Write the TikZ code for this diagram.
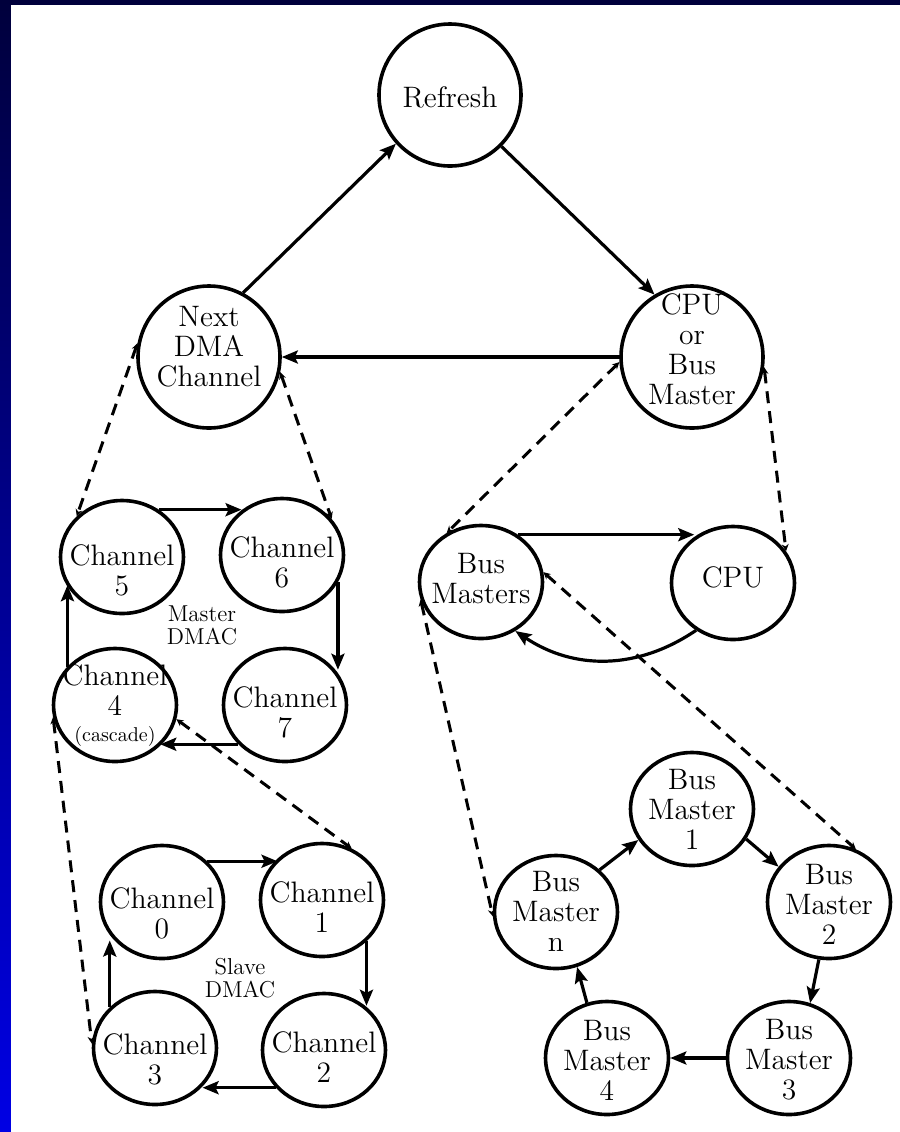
\documentclass[tikz,border=0pt]{standalone}
\usetikzlibrary{shapes.geometric,arrows.meta}
\definecolor{navytop}{RGB}{0,0,60}
\definecolor{bluebot}{RGB}{0,0,228}
\begin{document}
\begin{tikzpicture}[x=0.5pt,y=-0.5pt,
  big/.style={draw, circle, line width=1.8pt, minimum size=71pt, inner sep=0pt},
  ell/.style={draw, ellipse, line width=1.8pt, minimum width=61.5pt, minimum height=56.5pt, inner sep=0pt},
  txt/.style={align=center, font=\fontsize{14.8}{15}\selectfont, inner sep=0pt},
  smalltxt/.style={align=center, font=\fontsize{11.5}{11.5}\selectfont, inner sep=0pt},
  tinytxt/.style={align=center, font=\fontsize{10}{10}\selectfont, inner sep=0pt},
  arr/.style={line width=1.6pt, -{Stealth[length=8pt,width=6.5pt,inset=1.5pt]}},
  dsh/.style={line width=1.5pt, dash pattern=on 6pt off 4pt,
    {Stealth[length=3.5pt,width=3.5pt]}-{Stealth[length=3.5pt,width=3.5pt]}}]
\useasboundingbox (0,0) rectangle (900,1132);
\shade[top color=navytop, bottom color=bluebot] (0,0) rectangle (900,1132);
\fill[white] (11,5) rectangle (900,1132);

% top level
\node[big] (refresh) at (450,95) {};
\node[big] (next) at (209,357) {};
\node[big] (cpubm) at (692,357) {};
\node[txt] (refresht) at (450,97) {Refresh};
\node[txt] (nextt) at (209,347) {Next\\DMA\\Channel};
\node[txt] (cpubmt) at (692,349) {CPU\\or\\Bus\\Master};

\draw[arr] (next.62) -- (refresh.222);
\draw[arr] (refresh.-45) -- (cpubm.121);
\draw[arr] (cpubm.west) -- (next.east);

% master DMAC
\node[ell] (ch5) at (122,557) {};
\node[ell] (ch6) at (282,555) {};
\node[ell] (ch4) at (115,705) {};
\node[ell] (ch7) at (285,705) {};
\node[txt] (ch5t) at (122,570) {Channel\\5};
\node[txt] (ch6t) at (282,562) {Channel\\6};
\node[txt] (ch4t) at (115,690) {Channel\\4};
\node[tinytxt] (ch4c) at (115,736) {(cascade)};
\node[txt] (ch7t) at (285,712) {Channel\\7};
\node[smalltxt] (mdmac) at (202,625) {Master\\DMAC};

\draw[arr] (ch5.52) -- (ch6.132 |- ch5.52);
\draw[arr] (ch6.-26) -- (ch6.-26 |- ch7.35);
\draw[arr] (ch7.220) -- (ch4.318 |- ch7.220);
\draw[arr] (ch4.141) -- (ch4.141 |- ch5.207);

% slave DMAC
\node[ell] (ch0) at (162,902) {};
\node[ell] (ch1) at (322,900) {};
\node[ell] (ch3) at (155,1048) {};
\node[ell] (ch2) at (324,1050) {};
\node[txt] (ch0t) at (162,913) {Channel\\0};
\node[txt] (ch1t) at (322,907) {Channel\\1};
\node[txt] (ch3t) at (155,1059) {Channel\\3};
\node[txt] (ch2t) at (324,1057) {Channel\\2};
\node[smalltxt] (sdmac) at (240,978) {Slave\\DMAC};

\draw[arr] (ch0.42) -- (ch1.137 |- ch0.42);
\draw[arr] (ch1.-43) -- (ch1.-43 |- ch2.47);
\draw[arr] (ch2.218) -- (ch3.-39 |- ch2.218);
\draw[arr] (ch3.138) -- (ch3.138 |- ch0.219);

% bus masters / cpu
\node[ell] (bms) at (481,582) {};
\node[ell] (cpu) at (733,583) {};
\node[txt] (bmst) at (481,579) {Bus\\Masters};
\node[txt] (cput) at (733,577) {CPU};
\draw[arr] (bms.52) -- (cpu.130 |- bms.52);
\draw[arr] (cpu.232) to[bend left=34] (bms.305);

% bus master ring
\node[ell] (bm1) at (692,809) {};
\node[ell] (bm2) at (829,902) {};
\node[ell] (bm3) at (789,1058) {};
\node[ell] (bm4) at (607,1058) {};
\node[ell] (bmn) at (556,912) {};
\node[txt] (bm1t) at (692,809) {Bus\\Master\\1};
\node[txt] (bm2t) at (829,904) {Bus\\Master\\2};
\node[txt] (bm3t) at (789,1060) {Bus\\Master\\3};
\node[txt] (bm4t) at (607,1060) {Bus\\Master\\4};
\node[txt] (bmnt) at (556,911) {Bus\\Master\\n};
\draw[arr] (bmn.44) -- (bm1.210);
\draw[arr] (bm1.-29) -- (bm2.145);
\draw[arr] (bm2.260) -- (bm3.69);
\draw[arr] (bm3.west) -- (bm4.east);
\draw[arr] (bm4.110) -- (bmn.-69);

% dashed expansion lines
\draw[dsh] (next.169) -- (ch5.138);
\draw[dsh] (next.-12) -- (ch6.36);
\draw[dsh] (cpubm.184) -- (bms.125);
\draw[dsh] (cpubm.-8) -- (cpu.31);
\draw[dsh] (ch4.191) -- (ch3.176);
\draw[dsh] (ch4.-13) -- (ch1.60);
\draw[dsh] (bms.196) -- (bmn.184);
\draw[dsh] (bms.9) -- (bm2.63);
\end{tikzpicture}
\end{document}
